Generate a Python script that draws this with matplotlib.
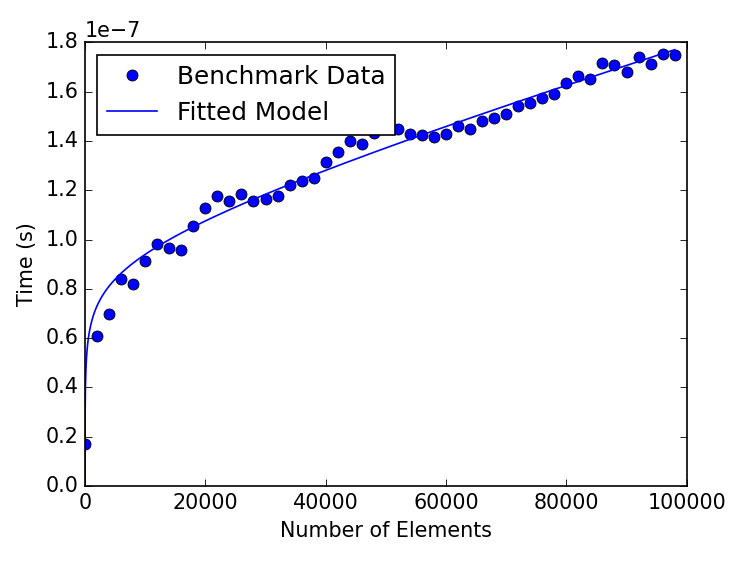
import numpy as np
import matplotlib
matplotlib.use("Agg")
import matplotlib.pyplot as plt

plt.style.use("classic")
plt.rcParams["font.size"] = 12.4

n_elements = [0, 2000, 4000, 6000, 8000, 10000, 12000, 14000, 16000, 18000,
              20000, 22000, 24000, 26000, 28000, 30000, 32000, 34000, 36000, 38000,
              40000, 42000, 44000, 46000, 48000, 50000, 52000, 54000, 56000, 58000,
              60000, 62000, 64000, 66000, 68000, 70000, 72000, 74000, 76000, 78000,
              80000, 82000, 84000, 86000, 88000, 90000, 92000, 94000, 96000, 98000]
time_e7 = [0.169, 0.609, 0.697, 0.838, 0.818, 0.912, 0.980, 0.965, 0.959, 1.053,
           1.128, 1.176, 1.158, 1.184, 1.155, 1.163, 1.178, 1.220, 1.236, 1.250,
           1.313, 1.354, 1.398, 1.386, 1.433, 1.500, 1.448, 1.427, 1.425, 1.415,
           1.430, 1.462, 1.447, 1.480, 1.494, 1.511, 1.542, 1.554, 1.576, 1.589,
           1.635, 1.662, 1.650, 1.717, 1.708, 1.678, 1.740, 1.713, 1.751, 1.748]

# Fitted model parameters (time in 1e-7 s): t = log_coef*ln(n) + lin_coef*n + const
fit_log_coef = 0.0951
fit_lin_coef = 6.97e-6
fit_const = -0.006

x = np.array(n_elements, dtype=float)
y = np.array(time_e7) * 1e-7

xf = np.linspace(1, x.max(), 20000)
yf = (fit_log_coef * np.log(xf) + fit_lin_coef * xf + fit_const) * 1e-7

fig = plt.figure(figsize=(747 / 120, 561 / 120), dpi=120, facecolor="white")
ax = fig.add_axes([85 / 747, 1 - 486 / 561, (686.7 - 85) / 747, (486 - 42.3) / 561])
ax.plot(x, y, "bo", markersize=6.6, label="Benchmark Data")
ax.plot(xf, yf, "b-", label="Fitted Model")
ax.set_xlim(0, 100000)
ax.set_ylim(0, 1.8e-7)
ax.set_xlabel("Number of Elements")
ax.set_ylabel("Time (s)")
ax.legend(loc="upper left", numpoints=1)
fig.savefig("out.png", dpi=120, facecolor="white")
